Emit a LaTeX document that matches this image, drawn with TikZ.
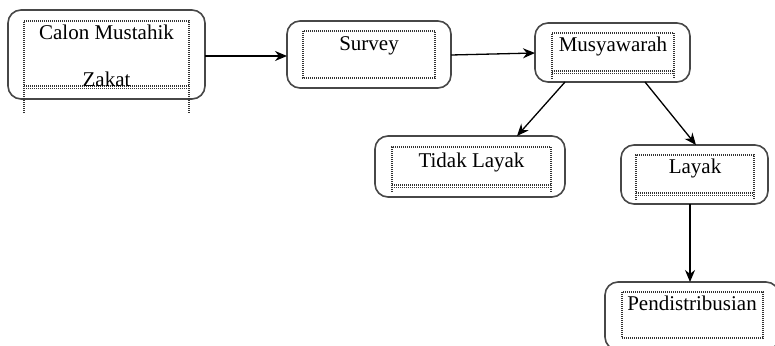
\documentclass[tikz,border=0pt]{standalone}
\usepackage{fontspec}
\setmainfont{Liberation Serif}
\usetikzlibrary{arrows.meta}
\begin{document}
\begin{tikzpicture}[x=1pt,y=-1pt,
  outerbox/.style={draw=black!72, line width=1.6pt, rounded corners=13pt, inner sep=0pt, outer sep=0pt},
  innerdot/.style={draw=black!80, line width=1.1pt, dash pattern=on 1pt off 1pt},
  lbl/.style={font=\fontsize{21}{25}\selectfont, inner sep=0pt, anchor=base, text=black},
  arr/.style={draw=black, line width=1.3pt, -{Stealth[length=12pt,width=10pt]}}]
\useasboundingbox (0,0) rectangle (775,345);
\clip (0,0) rectangle (775,345);
% outer boxes
\node[outerbox, minimum width=197pt, minimum height=89pt] (b1) at (106.5,54.5) {};
\node[outerbox, minimum width=164pt, minimum height=67pt] (b2) at (369,54.5) {};
\node[outerbox, minimum width=155pt, minimum height=59pt] (b3) at (612.5,52.5) {};
\node[outerbox, minimum width=190pt, minimum height=61pt] (b4) at (470,166.5) {};
\node[outerbox, minimum width=147pt, minimum height=59pt] (b5) at (694.5,174.5) {};
\node[outerbox, minimum width=174pt, minimum height=68pt] (b6) at (692,316) {};
% inner dotted frames
\draw[innerdot] (24,113) -- (24,21) -- (189,21) -- (189,113);
\draw[innerdot] (24,86) -- (189,86);
\draw[innerdot] (24,88.5) -- (189,88.5);
\draw[innerdot] (303,31) rectangle (435,78);
\draw[innerdot] (552,79) -- (552,33) -- (674,33) -- (674,79);
\draw[innerdot] (552,71) -- (674,71);
\draw[innerdot] (552,73.5) -- (674,73.5);
\draw[innerdot] (392,192) -- (392,147) -- (551,147) -- (551,192);
\draw[innerdot] (392,185) -- (551,185);
\draw[innerdot] (392,187.5) -- (551,187.5);
\draw[innerdot] (636,200) -- (636,155) -- (754,155) -- (754,200);
\draw[innerdot] (636,193) -- (754,193);
\draw[innerdot] (636,195.5) -- (754,195.5);
\draw[innerdot] (622,292) rectangle (763,338);
% labels
\node[lbl] (t1a) at (106.5,40) {Calon Mustahik};
\node[lbl] (t1b) at (106.5,86) {Zakat};
\node[lbl] (t2) at (369,50) {Survey};
\node[lbl] (t3) at (613,52) {Musyawarah};
\node[lbl] (t4) at (471.5,167) {Tidak Layak};
\node[lbl] (t5) at (695,173) {Layak};
\node[lbl] (t6) at (692,310) {Pendistribusian};
% connectors
\draw[arr] ([yshift=-1.5pt]b1.east) -- ([yshift=-1.5pt]b2.west);
\draw[arr] ([yshift=-0.5pt]b2.east) -- ([yshift=-0.5pt]b3.west);
\draw[arr] ([xshift=-47.5pt]b3.south) -- ([xshift=47pt]b4.north);
\draw[arr] ([xshift=32.5pt]b3.south) -- ([xshift=1.5pt]b5.north);
\draw[arr] ([xshift=-4.5pt]b5.south) -- ([xshift=-4.5pt]b5.south |- b6.north);
\end{tikzpicture}
\end{document}
